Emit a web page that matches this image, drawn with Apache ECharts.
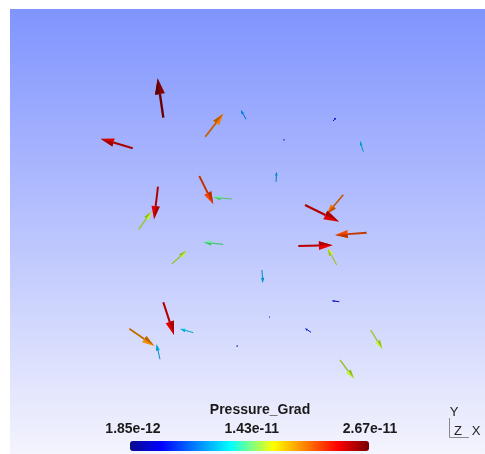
<!DOCTYPE html>
<html>
<head>
<meta charset="utf-8">
<script src="https://cdn.jsdelivr.net/npm/echarts@6/dist/echarts.min.js"></script>
<style>
  html, body { margin: 0; padding: 0; background: #ffffff; }
  #chart { width: 485px; height: 454px; }
</style>
</head>
<body>
<div id="chart"></div>
<script>
// Glyph field: base point (scene units) and vector components per glyph
const tailX = [153.3, 122.7, 195.3, 236.0, 189.3, 221.7, 148.0, 128.7, 323.0, 274.0,
               353.3, 266.0, 333.3, 295.0, 356.7, 288.3, 326.7, 213.3, 161.7, 252.0,
               153.3, 183.3, 119.3, 150.0, 228.0, 260.0, 329.3, 301.0, 360.7, 330.0];
const tailY = [336.3, 305.7, 317.3, 334.7, 278.0, 255.0, 267.3, 224.7, 333.0, 313.5,
               302.3, 272.3, 259.3, 249.0, 221.3, 208.0, 189.0, 209.7, 190.0, 184.0,
               151.7, 121.3, 125.3, 94.7, 108.0, 137.0, 152.3, 121.7, 124.0, 94.0];
const vecU  = [-5.6, -32.0, 18.0, -5.0, 14.0, -18.4, -4.0, 13.0, 3.0, 0.0,
               -3.3, 0.7, -16.6, 34.0, -31.7, 34.4, -9.0, -20.0, 15.0, 0.7,
               10.7, -13.3, 25.0, -3.3, -1.5, -1.0, -7.6, -6.0, 11.6, 14.0];
const vecV  = [39.4, 9.6, 23.0, 9.3, -28.3, 1.7, -32.6, 18.0, 3.0, 1.5,
               11.0, 10.0, -19.6, -16.7, -2.3, 0.7, 16.7, 2.0, 13.3, -13.0,
               -32.7, 4.0, -17.3, 15.0, 0.0, 0.0, 1.0, 4.0, -19.0, -18.7];
// Pressure_Grad magnitude per glyph
const magnitude = [26.2e-12, 24.2e-12, 20.1e-12, 9.1e-12, 21.7e-12, 14.2e-12, 24.0e-12, 15.8e-12, 4.8e-12, 4.3e-12,
                   10.5e-12, 9.6e-12, 20.5e-12, 24.0e-12, 21.5e-12, 23.7e-12, 16.0e-12, 14.0e-12, 15.7e-12, 10.1e-12,
                   24.0e-12, 11.3e-12, 19.7e-12, 10.5e-12, 4.3e-12, 4.3e-12, 5.6e-12, 6.1e-12, 15.8e-12, 15.8e-12];

// Color bar range and ticks
const rangeMin = 1.85e-12;
const rangeMax = 2.67e-11;
const tickValues = [1.85e-12, 1.43e-11, 2.67e-11];
const tickLabels = ['1.85e-12', '1.43e-11', '2.67e-11'];
const scalarName = 'Pressure_Grad';

// Jet-like lookup table stops
const stops = [[0, [12, 12, 140]], [0.13, [0, 0, 255]], [0.42, [0, 255, 255]], [0.51, [128, 255, 128]],
               [0.60, [255, 255, 0]], [0.87, [255, 0, 0]], [1, [118, 0, 0]]];
function lut(t) {
  for (let i = 1; i < stops.length; i++) {
    if (t <= stops[i][0]) {
      const a = stops[i - 1], b = stops[i];
      const f = (t - a[0]) / (b[0] - a[0]);
      const c = a[1].map((v, k) => Math.round(v + (b[1][k] - v) * f));
      return 'rgb(' + c.join(',') + ')';
    }
  }
  return 'rgb(118,0,0)';
}
const lutColors = [];
for (let i = 0; i <= 100; i++) lutColors.push(lut(i / 100));

// Simple diffuse shading: scale the RGB channels
function shadeColor(color, k) {
  const c = echarts.color.parse(color);
  return 'rgb(' + [0, 1, 2].map(i => Math.min(255, Math.round(c[i] * k))).join(',') + ')';
}

const glyphData = tailX.map((x, i) => [x, tailY[i], vecU[i], vecV[i], magnitude[i]]);

// Scene extent in scene units
const sceneW = 475, sceneH = 445;

// Color bar geometry
const barLeft = 130, barTop = 441, barLen = 239, barThick = 10;

const chart = echarts.init(document.getElementById('chart'), null, { renderer: 'canvas' });

function renderGlyph(params, api) {
  const x = api.value(0), y = api.value(1);
  const p0 = api.coord([x, y]);
  const p1 = api.coord([x + api.value(2), y + api.value(3)]);
  const dx = p1[0] - p0[0], dy = p1[1] - p0[1];
  const L = Math.hypot(dx, dy);
  const color = api.visual('color');
  if (L < 0.5) {
    return { type: 'circle', shape: { cx: p0[0], cy: p0[1], r: 0.8 }, style: { fill: shadeColor(color, 0.8) } };
  }
  const ux = dx / L, uy = dy / L, nx = -uy, ny = ux;
  const headLen = L * 0.4;
  const hh = Math.max(L * 0.125, 1);
  const bx = p1[0] - ux * headLen, by = p1[1] - uy * headLen;
  const lit = shadeColor(color, 0.96);
  const dark = shadeColor(color, 0.72);
  return {
    type: 'group',
    children: [
      { type: 'line', shape: { x1: p0[0], y1: p0[1], x2: bx, y2: by },
        style: { stroke: shadeColor(color, 0.76), lineWidth: Math.max(1, L * 0.06) } },
      { type: 'polygon', shape: { points: [p1, [bx + nx * hh, by + ny * hh], [bx - nx * hh, by - ny * hh]] },
        style: { fill: lit } },
      { type: 'polygon', shape: { points: [p1, [bx, by], [bx - nx * hh, by - ny * hh]] },
        style: { fill: dark } }
    ]
  };
}

const labelFont = 'bold 14px "Liberation Sans", Arial, sans-serif';
const labelGraphics = tickValues.map((v, i) => ({
  type: 'text',
  x: barLeft + (v - rangeMin) / (rangeMax - rangeMin) * barLen + (i === 0 ? 3 : (i === 1 ? 2 : 1)),
  y: 429,
  style: { text: tickLabels[i], font: labelFont, fill: '#1a1a1a',
           textAlign: 'center', textVerticalAlign: 'middle' }
}));

chart.setOption({
  animation: false,
  backgroundColor: '#ffffff',
  grid: {
    left: 10, top: 9, right: 0, bottom: 0,
    show: true, borderWidth: 0,
    backgroundColor: new echarts.graphic.LinearGradient(0, 0, 0, 1, [
      { offset: 0, color: '#8094fe' },
      { offset: 1, color: '#f4f4fd' }
    ])
  },
  xAxis: { type: 'value', min: 0, max: sceneW, show: false },
  yAxis: { type: 'value', min: 0, max: sceneH, show: false },
  visualMap: {
    type: 'continuous',
    min: rangeMin, max: rangeMax,
    dimension: 4,
    orient: 'horizontal',
    left: barLeft, top: barTop,
    itemWidth: barThick, itemHeight: barLen,
    padding: 0,
    calculable: false,
    showLabel: false,
    text: null,
    hoverLink: false,
    inRange: { color: lutColors }
  },
  series: [{
    type: 'custom',
    renderItem: renderGlyph,
    data: glyphData,
    silent: true
  }],
  graphic: [
    { type: 'text', x: 260, y: 410,
      style: { text: scalarName, font: labelFont, fill: '#1a1a1a',
               textAlign: 'center', textVerticalAlign: 'middle' } },
    ...labelGraphics,
    // orientation triad
    { type: 'line', shape: { x1: 449.5, y1: 418, x2: 449.5, y2: 437.5 }, style: { stroke: '#888', lineWidth: 1 } },
    { type: 'line', shape: { x1: 449.5, y1: 437.5, x2: 469, y2: 437.5 }, style: { stroke: '#888', lineWidth: 1 } },
    { type: 'text', x: 454, y: 412, style: { text: 'Y', font: '13px "Liberation Sans", Arial, sans-serif', fill: '#222', textAlign: 'center', textVerticalAlign: 'middle' } },
    { type: 'text', x: 458, y: 431, style: { text: 'Z', font: '13px "Liberation Sans", Arial, sans-serif', fill: '#222', textAlign: 'center', textVerticalAlign: 'middle' } },
    { type: 'text', x: 476, y: 431, style: { text: 'X', font: '13px "Liberation Sans", Arial, sans-serif', fill: '#222', textAlign: 'center', textVerticalAlign: 'middle' } }
  ]
});
</script>
</body>
</html>
